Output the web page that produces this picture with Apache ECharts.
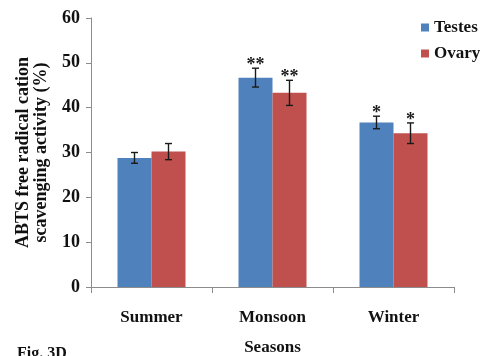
<!DOCTYPE html>
<html>
<head>
<meta charset="utf-8">
<script src="https://cdn.jsdelivr.net/npm/echarts@6/dist/echarts.min.js"></script>
<style>
  html, body { margin: 0; padding: 0; background: #fff; }
  #chart { width: 480px; height: 356px; }
</style>
</head>
<body>
<div id="chart"></div>
<script>
// Seasonal ABTS radical scavenging activity of testes and ovary extracts
var seasons = ['Summer', 'Monsoon', 'Winter'];
var testesMean = [28.8, 46.7, 36.7];
var testesErr = [1.2, 2.1, 1.4];
var testesSig = ['', '**', '*'];
var ovaryMean = [30.2, 43.3, 34.3];
var ovaryErr = [1.8, 2.8, 2.3];
var ovarySig = ['', '**', '*'];
var yTicks = [0, 10, 20, 30, 40, 50, 60];

var FONT = '"Liberation Serif", "Times New Roman", serif';
var BAR_W = 34;
var BLUE = '#4F81BD';
var RED = '#C0504D';

// Error bar + significance marker, shifted to sit over its bar
function errorSeries(name, means, errs, sigs, shift) {
  var data = means.map(function (m, i) { return [i, m, errs[i], sigs[i]]; });
  return {
    type: 'custom',
    name: name + ' err',
    data: data,
    z: 10,
    silent: true,
    renderItem: function (params, api) {
      var idx = api.value(0);
      var mean = api.value(1);
      var err = api.value(2);
      var sig = data[params.dataIndex][3];
      var top = api.coord([idx, mean + err]);
      var bot = api.coord([idx, mean - err]);
      var x = top[0] + shift;
      var cap = 3.5;
      var style = { stroke: '#1a1a1a', lineWidth: 1.4 };
      var children = [
        { type: 'line', shape: { x1: x, y1: top[1], x2: x, y2: bot[1] }, style: style },
        { type: 'line', shape: { x1: x - cap, y1: top[1], x2: x + cap, y2: top[1] }, style: style },
        { type: 'line', shape: { x1: x - cap, y1: bot[1], x2: x + cap, y2: bot[1] }, style: style }
      ];
      if (sig) {
        children.push({
          type: 'text',
          style: {
            text: sig, x: x, y: top[1] - 12,
            textAlign: 'center', textVerticalAlign: 'top',
            font: 'bold 18px ' + FONT, fill: '#1a1a1a'
          }
        });
      }
      return { type: 'group', children: children };
    }
  };
}

var chart = echarts.init(document.getElementById('chart'), null, { renderer: 'canvas' });
chart.setOption({
  animation: false,
  backgroundColor: '#ffffff',
  grid: { left: 91, right: 26, top: 18, bottom: 69, containLabel: false, outerBoundsMode: 'none' },
  legend: {
    orient: 'vertical',
    left: 416, top: 14,
    itemWidth: 8, itemHeight: 8, itemGap: 9,
    icon: 'rect',
    textStyle: { fontFamily: FONT, fontWeight: 'bold', fontSize: 17, color: '#111' },
    data: ['Testes', 'Ovary']
  },
  xAxis: {
    type: 'category',
    data: seasons,
    name: 'Seasons',
    nameLocation: 'middle',
    nameGap: 52,
    nameTextStyle: { fontFamily: FONT, fontWeight: 'bold', fontSize: 17, color: '#111' },
    axisLine: { lineStyle: { color: '#8c8c8c', width: 1 } },
    axisTick: { show: true, length: 6, lineStyle: { color: '#8c8c8c' } },
    axisLabel: { margin: 22, fontFamily: FONT, fontWeight: 'bold', fontSize: 17, color: '#111' }
  },
  yAxis: {
    type: 'value',
    min: yTicks[0],
    max: yTicks[yTicks.length - 1],
    interval: yTicks[1] - yTicks[0],
    name: 'ABTS free radical cation\nscavenging activity (%)',
    nameLocation: 'middle',
    nameGap: 41,
    nameTextStyle: { fontFamily: FONT, fontWeight: 'bold', fontSize: 18, color: '#111', lineHeight: 18 },
    axisLine: { show: true, lineStyle: { color: '#8c8c8c', width: 1 } },
    axisTick: { show: true, length: 5, lineStyle: { color: '#8c8c8c' } },
    splitLine: { show: false },
    axisLabel: { margin: 11, fontFamily: FONT, fontWeight: 'bold', fontSize: 18, color: '#111' }
  },
  series: [
    {
      name: 'Testes', type: 'bar', data: testesMean,
      barWidth: BAR_W, barGap: '0%',
      itemStyle: { color: BLUE }
    },
    {
      name: 'Ovary', type: 'bar', data: ovaryMean,
      barWidth: BAR_W, barGap: '0%',
      itemStyle: { color: RED }
    },
    errorSeries('Testes', testesMean, testesErr, testesSig, -BAR_W / 2),
    errorSeries('Ovary', ovaryMean, ovaryErr, ovarySig, BAR_W / 2)
  ],
  graphic: [
    {
      type: 'text', left: 17, top: 346,
      style: { text: 'Fig. 3D', font: 'bold 16px ' + FONT, fill: '#111' }
    }
  ]
});
</script>
</body>
</html>
